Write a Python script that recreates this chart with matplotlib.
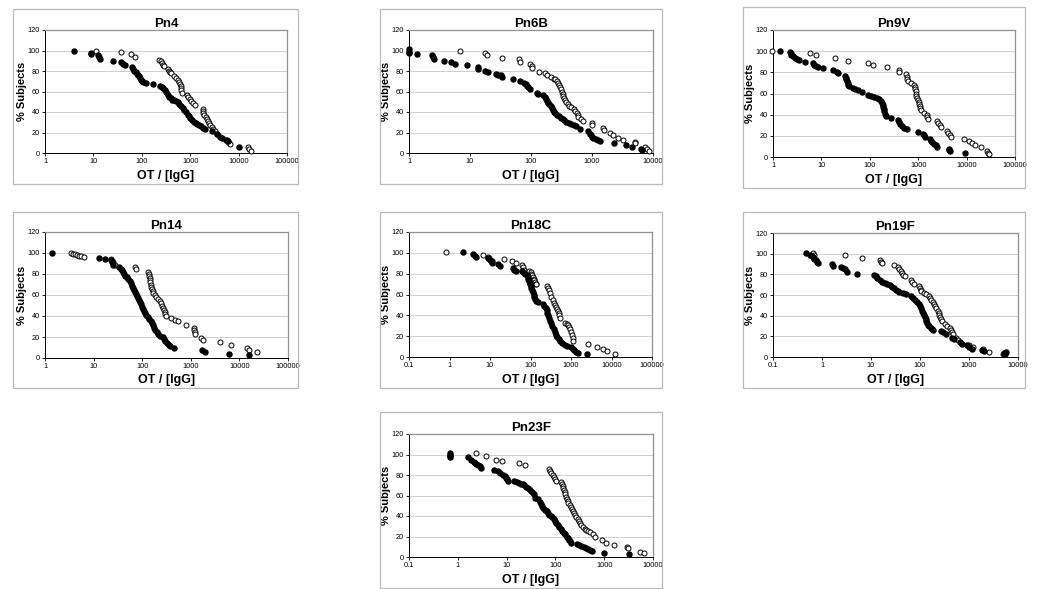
import matplotlib.pyplot as plt
from matplotlib.patches import Rectangle
from matplotlib.ticker import FixedLocator, NullLocator

plt.rcParams['font.family'] = ['Liberation Sans', 'DejaVu Sans']

# ---- data: OT/[IgG] (x) vs % subjects (y); filled and open series ----
pn4_filled_x = [4.0, 8.8, 9.0, 12.7, 13.2, 13.7, 25, 38, 41, 44, 62, 66, 70, 75, 80, 85, 89, 92, 95, 100,
                108, 125, 174, 240, 260, 280, 300, 320, 340, 370, 400, 430, 460, 520, 560, 600, 650, 700,
                740, 800, 900, 950, 1000, 1100, 1200, 1300, 1400, 1550, 1700, 1800, 2000, 2800, 3500,
                4200, 4500, 5500, 6000, 10000]
pn4_filled_y = [100, 98, 97, 96, 94, 92, 90, 89, 87, 86, 84, 82, 80, 79, 77, 76, 75, 73, 71, 70,
                69, 68, 67, 65, 64, 63, 61, 60, 57, 55, 54, 52, 52, 51, 50, 48, 46, 44,
                42, 40, 37, 36, 34, 32, 30, 29, 28, 27, 26, 24, 23, 21, 19, 16, 15, 13, 12, 6]
pn4_open_x = [11.4, 38, 59, 73, 230, 245, 260, 280, 290, 340, 370, 390, 410, 470, 520, 560, 590, 620,
              640, 650, 660, 670, 870, 920, 980, 1060, 1150, 1250, 1800, 1850, 1880, 1950, 2100, 2200,
              2300, 2450, 2600, 2800, 3000, 3300, 3600, 5700, 6000, 6500, 15500, 16500, 18000]
pn4_open_y = [100, 99, 97, 94, 91, 90, 88, 86, 85, 82, 80, 79, 78, 75, 73, 71, 69, 67,
              65, 63, 61, 59, 57, 55, 53, 51, 49, 47, 43, 41, 39, 37, 35, 33,
              31, 29, 27, 25, 23, 21, 19, 13, 11, 9, 5.5, 4, 2]

pn6b_filled_x = [1.0, 1.0, 1.0, 1.35, 2.4, 2.5, 2.55, 3.8, 4.8, 5.6, 8.8, 13.3, 13.6, 17.6, 20, 27, 29,
                 32, 34, 51, 67, 78, 82, 86, 90, 95, 127, 131, 160, 170, 178, 185, 192, 200, 210, 220,
                 230, 240, 250, 270, 290, 310, 330, 350, 380, 420, 460, 500, 550, 640, 870, 920, 960,
                 1000, 1050, 1150, 1250, 1350, 2300, 3600, 4500, 6300, 6500]
pn6b_filled_y = [101, 99, 98, 97, 96, 94, 92, 90, 89, 87, 86, 84, 82, 80, 79, 77, 76,
                 76, 74, 72, 70, 68, 67, 65, 64, 62, 59, 58, 57, 55, 53, 51, 49, 48, 46, 44,
                 42, 40, 39, 37, 36, 34, 33, 32, 30, 29, 28, 27, 26, 23, 21, 19, 18,
                 16, 15, 14, 13, 12, 9.5, 7.5, 6, 4, 3]
pn6b_open_x = [6.8, 17.5, 18.7, 34, 63, 66, 98, 102, 105, 137, 170, 185, 210, 240, 250, 270, 280, 290,
               300, 310, 320, 330, 340, 350, 360, 380, 400, 420, 450, 500, 530, 560, 580, 600, 650, 700,
               1000, 1000, 1540, 1560, 2000, 2250, 2650, 3200, 5000, 5000, 7400, 8000, 8500]
pn6b_open_y = [100, 98, 96, 93, 92, 89, 87, 85, 83, 79, 78, 76, 74, 72, 72, 70, 68, 66,
               64, 62, 60, 58, 56, 54, 52, 50, 48, 46, 45, 43, 41, 39, 37, 35, 33, 31,
               29, 27, 24, 22, 20, 18, 15, 13, 11, 10, 5.5, 4, 2]

pn9v_filled_x = [1.4, 2.2, 2.3, 2.4, 2.6, 2.9, 3.2, 3.5, 4.6, 6.8, 7.2, 7.8, 8.5, 11, 17, 21, 22, 31,
                 32, 33, 34, 35, 36, 38, 45, 50, 57, 68, 92, 105, 120, 140, 155, 170, 180, 185, 190,
                 195, 200, 205, 215, 280, 380, 400, 430, 470, 520, 600, 1000, 1250, 1300, 1350, 1750,
                 1800, 1900, 2100, 2300, 2500, 4300, 4400, 4600, 9200]
pn9v_filled_y = [100, 99, 98, 96, 95, 94, 92.5, 91.5, 90, 88.5, 87, 86, 85, 84, 82, 80, 79, 77,
                 75, 74, 72, 70, 68, 67, 65, 64, 63, 61, 59, 58, 57, 56, 55, 53, 51, 49, 47,
                 45, 43, 41, 39, 37, 35, 33, 31, 29, 27, 26, 24, 22, 21, 19, 17,
                 15, 14, 12, 11, 9.5, 8, 7, 5.5, 4]
pn9v_open_x = [0.95, 5.8, 7.6, 19, 35, 94, 119, 225, 400, 400, 560, 580, 600, 620, 700, 800, 850, 870,
               880, 900, 920, 950, 1000, 1020, 1050, 1080, 1100, 1150, 1300, 1500, 1550, 1600, 2500,
               2600, 2800, 3000, 4000, 4100, 4500, 4800, 8800, 11000, 13000, 15000, 20000, 27000,
               28000, 29000]
pn9v_open_y = [100, 98, 96, 94, 91, 89, 87, 85, 82, 80, 78, 76, 74, 72, 70, 68, 66, 64,
               62, 60, 58, 56, 54, 52, 50, 48, 46, 44, 42, 40, 38, 36, 34,
               32, 30, 28, 25, 23, 21, 19, 17, 15, 13, 11, 9, 6, 4, 2.5]

pn14_filled_x = [1.4, 13, 17, 23, 24, 25, 34, 36, 38, 40, 42, 45, 48, 52, 55, 58, 61, 64, 68, 72, 75,
                 78, 82, 86, 90, 95, 100, 105, 110, 115, 122, 130, 140, 150, 160, 170, 175, 185, 200,
                 215, 230, 270, 285, 300, 320, 350, 380, 450, 1700, 2000, 6000, 16000]
pn14_filled_y = [100, 95.5, 94, 93, 91, 89, 87, 85, 84, 82, 80, 78, 77, 75, 73, 71, 69, 67, 65, 63, 61,
                 59, 57, 55, 53, 51, 49, 47, 45, 43, 41, 39, 37, 35, 33, 31, 29, 27, 25,
                 23, 21, 20, 18, 16, 14, 12, 11, 10, 8, 6, 4, 3]
pn14_open_x = [3.4, 3.8, 4.2, 4.6, 5.0, 5.5, 6.2, 23, 24, 25, 27, 70, 74, 130, 135, 140, 142, 145, 148,
               150, 155, 160, 165, 170, 180, 190, 210, 230, 245, 255, 265, 275, 290, 300, 310, 400, 470,
               550, 800, 1150, 1180, 1200, 1230, 1600, 1800, 4000, 6700, 14500, 16000, 23000]
pn14_open_y = [100, 99.5, 99, 98, 97.5, 97, 96, 94, 92, 91, 89, 87, 85, 82, 80, 78, 76, 74, 72,
               70, 68, 66, 64, 62, 60, 58, 56, 54, 52, 50, 48, 46, 44, 42, 40, 38, 36,
               35, 31, 29, 27, 25, 23, 19, 17, 15, 12, 10, 8, 6]

pn18c_filled_x = [2.1, 3.7, 4.2, 4.5, 9, 10, 11, 11.5, 16, 18, 37, 40, 43, 60, 65, 75, 80, 85, 88, 92,
                  95, 98, 100, 105, 110, 115, 120, 125, 130, 140, 150, 207, 220, 235, 250, 260, 277,
                  290, 300, 320, 340, 370, 400, 430, 450, 500, 550, 600, 700, 800, 990, 1100, 1200,
                  1350, 1500, 2500]
pn18c_filled_y = [101, 99, 97, 96, 95, 93, 92, 90, 89, 87, 85, 84, 83, 83, 82, 80, 79, 77, 75, 73,
                  71, 70, 68, 66, 64, 62, 60, 58, 56, 54, 53, 51, 49, 47, 45, 42, 40,
                  37, 35, 33, 30, 27, 24, 21, 19, 17, 15, 13, 12, 11, 10, 8, 7,
                  5, 4, 3]
pn18c_open_x = [0.8, 6.7, 9, 9.5, 22, 35, 45, 60, 65, 70, 90, 100, 105, 110, 115, 120, 125, 130, 135,
                140, 260, 270, 285, 300, 320, 350, 380, 400, 430, 460, 480, 500, 520, 530, 700, 800,
                850, 900, 950, 1000, 1050, 1100, 1150, 2600, 4300, 6000, 7800, 12000]
pn18c_open_y = [101, 98, 96, 95, 94, 92, 90, 88, 86, 84, 83, 82, 80, 79, 77, 75, 74, 72, 70,
                70, 68, 66, 64, 61, 58, 55, 52, 50, 48, 46, 44, 42, 40, 37, 33, 32,
                31, 29, 27, 24, 21, 18, 15, 12.5, 10, 8, 5.5, 3]

pn19f_filled_x = [0.48, 0.58, 0.62, 0.66, 0.7, 0.74, 0.78, 0.83, 1.6, 1.7, 2.4, 2.7, 3.0, 3.2, 5.2,
                  11.5, 12.5, 13.5, 15, 17, 19, 21, 24, 27, 29, 32, 35, 37, 46, 51, 65, 72, 80, 88,
                  95, 100, 105, 110, 115, 120, 125, 130, 135, 140, 146, 155, 165, 175, 185, 270, 300,
                  335, 450, 500, 660, 720, 900, 1000, 1150, 1850, 2000, 5200, 5500, 5800]
pn19f_filled_y = [101, 99, 98, 97, 95, 94, 92, 91, 90, 88, 87, 86, 85, 82, 80.5,
                  79, 78, 76, 75, 73, 72, 71, 70, 68, 67, 65, 64, 63, 62, 61, 59, 57, 55, 53,
                  51, 49, 47, 45, 43, 41, 39, 37, 35, 33, 31, 30, 28, 27, 26, 25, 24,
                  22, 18, 17, 15, 13, 12, 10, 8, 7, 6, 4, 3, 4.5]
pn19f_open_x = [0.67, 0.7, 3.0, 6.6, 15, 16, 17, 29, 35, 38, 40, 43, 46, 49, 66, 70, 75, 97, 100, 104,
                107, 118, 130, 150, 160, 170, 180, 190, 200, 215, 230, 240, 250, 260, 270, 280, 320,
                360, 400, 430, 450, 480, 540, 600, 700, 1000, 1200, 1900, 2600, 5000, 5300]
pn19f_open_y = [101, 99, 99, 96, 94, 92, 91, 89, 87, 85, 83, 81, 79, 78, 75, 73, 71, 69, 67, 65,
                64, 62, 61, 59, 57, 55, 53, 51, 49, 47, 45, 43, 41, 39, 37, 35, 32,
                30, 28, 26, 24, 22, 18, 16, 14, 12, 10, 8, 5, 3, 2.5]

pn23f_filled_x = [0.7, 0.7, 0.7, 0.7, 1.6, 1.9, 2.1, 2.3, 2.4, 2.6, 2.8, 3.0, 5.5, 6.6, 7.2, 8.5, 9.2,
                  9.8, 10.2, 10.5, 14, 16, 18, 20, 22, 23, 25, 27, 30, 33, 36, 38, 44, 48, 50, 53, 57,
                  62, 66, 70, 75, 80, 86, 92, 98, 105, 112, 120, 128, 137, 148, 160, 170, 178, 190,
                  200, 210, 280, 300, 340, 380, 420, 470, 520, 550, 1000, 3200]
pn23f_filled_y = [101, 100, 99, 98, 98, 95, 93, 92, 91, 90, 89, 87, 85, 84, 82, 80, 79,
                  77, 76, 74, 74, 73, 72, 71, 71, 70, 68, 67, 65, 63, 61, 58, 57, 54, 52, 50, 48,
                  46, 45, 43, 41, 40, 39, 37, 35, 33, 31, 29, 27, 25, 23, 22, 20, 19, 17,
                  16, 14, 12.5, 12, 11, 10, 9, 8, 7, 6, 4, 2.5]
pn23f_open_x = [2.4, 3.8, 6, 8, 18, 24, 75, 78, 82, 88, 95, 100, 105, 130, 135, 140, 145, 150, 155,
                160, 165, 170, 178, 185, 195, 205, 215, 225, 240, 255, 270, 285, 300, 320, 340, 370,
                400, 430, 470, 520, 600, 650, 900, 1100, 1600, 2900, 3100, 5500, 6500]
pn23f_open_y = [101, 99, 95, 94, 92, 90, 86, 84, 82, 80, 78, 76, 74, 73, 71, 69, 67, 65, 63,
                61, 59, 57, 55, 53, 51, 49, 47, 45, 43, 41, 39, 37, 35, 33, 31, 29,
                27, 26, 25, 24, 22, 20, 17, 14, 12, 10, 9, 5, 4]

# ---- layout (pixel boxes in a 1050x589 canvas) ----
W, H = 1050, 589
fig = plt.figure(figsize=(W / 100, H / 100), dpi=100)

# title, data, x range, outer box (l, t, r, b), plot area (l, t, r, b)
panels = [
    ('Pn4', pn4_filled_x, pn4_filled_y, pn4_open_x, pn4_open_y, (1, 1e5),
     (13, 9, 298, 184), (45, 30, 287, 153)),
    ('Pn6B', pn6b_filled_x, pn6b_filled_y, pn6b_open_x, pn6b_open_y, (1, 1e4),
     (380, 9, 662, 184), (409, 30, 653, 153)),
    ('Pn9V', pn9v_filled_x, pn9v_filled_y, pn9v_open_x, pn9v_open_y, (1, 1e5),
     (743, 7, 1025, 188), (773, 30, 1015, 157)),
    ('Pn14', pn14_filled_x, pn14_filled_y, pn14_open_x, pn14_open_y, (1, 1e5),
     (13, 212, 298, 388), (45, 232, 288, 358)),
    ('Pn18C', pn18c_filled_x, pn18c_filled_y, pn18c_open_x, pn18c_open_y, (0.1, 1e5),
     (380, 212, 662, 388), (409, 232, 652, 357)),
    ('Pn19F', pn19f_filled_x, pn19f_filled_y, pn19f_open_x, pn19f_open_y, (0.1, 1e4),
     (743, 212, 1025, 388), (773, 233, 1018, 357)),
    ('Pn23F', pn23f_filled_x, pn23f_filled_y, pn23f_open_x, pn23f_open_y, (0.1, 1e4),
     (380, 412, 662, 588), (409, 434, 653, 557)),
]


def tick_text(v):
    return '0.1' if v < 1 else str(int(round(v)))


for name, fx, fy, ox, oy, xr, box, area in panels:
    l, t, r, b = box
    fig.patches.append(Rectangle((l / W, 1 - b / H), (r - l) / W, (b - t) / H,
                                 transform=fig.transFigure, fill=False,
                                 edgecolor='#b8b8b8', linewidth=0.9))
    l, t, r, b = area
    ax = fig.add_axes([l / W, 1 - b / H, (r - l) / W, (b - t) / H])
    ax.set_xscale('log')
    ax.set_xlim(*xr)
    ax.set_ylim(0, 120)

    decades = []
    v = xr[0]
    while v <= xr[1] * 1.001:
        decades.append(v)
        v *= 10
    ax.xaxis.set_major_locator(FixedLocator(decades))
    ax.set_xticklabels([tick_text(d) for d in decades])
    ax.xaxis.set_minor_locator(NullLocator())
    ax.set_yticks(range(0, 121, 20))

    ax.grid(axis='y', color='#c8c8c8', linewidth=0.6)
    ax.set_axisbelow(True)
    ax.tick_params(labelsize=5.3, length=2, width=0.6, pad=1.5, colors='black')

    ax.spines['left'].set_linewidth(0.7)
    ax.spines['bottom'].set_linewidth(0.7)
    for s in ('top', 'right'):
        ax.spines[s].set_color('#909090')
        ax.spines[s].set_linewidth(0.9)

    ax.scatter(ox, oy, s=13, facecolor='white', edgecolor='black', linewidth=0.7,
               zorder=3, clip_on=False)
    ax.scatter(fx, fy, s=13, color='black', zorder=4, clip_on=False)

    ax.set_title(name, fontsize=9.5, fontweight='bold', pad=2.5)
    ax.set_xlabel('OT / [IgG]', fontsize=9, fontweight='bold')
    ax.set_ylabel('% Subjects', fontsize=8, fontweight='bold')
    ax.xaxis.set_label_coords(0.5, -16.5 / (b - t))
    ax.yaxis.set_label_coords(-18 / (r - l), 0.5)

fig.savefig('out.png', dpi=100)
